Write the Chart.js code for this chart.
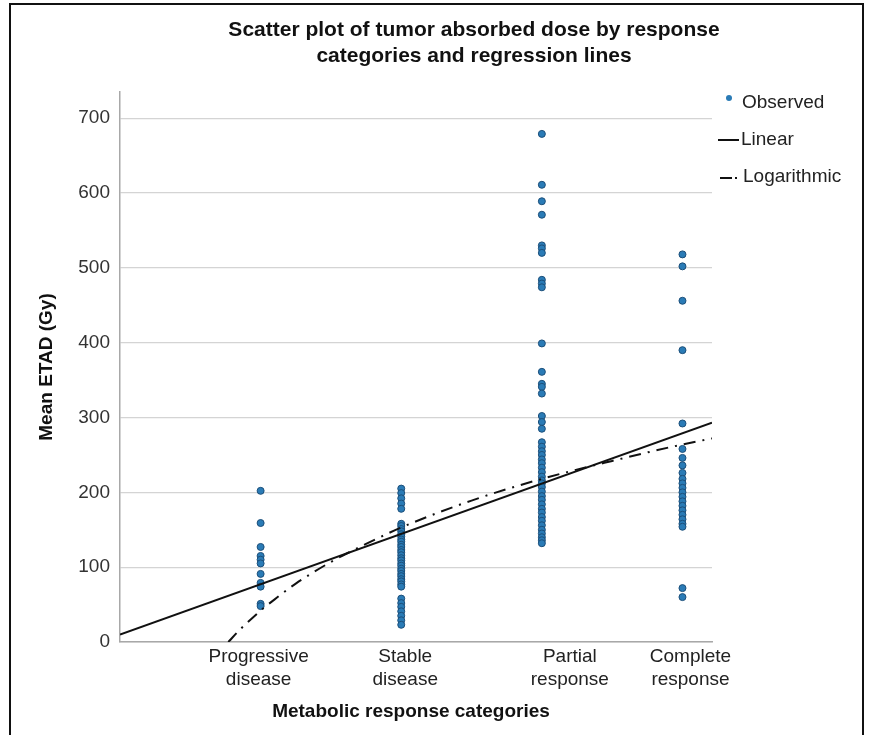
<!DOCTYPE html>
<html>
<head>
<meta charset="utf-8">
<title>Tumor absorbed dose by response category</title>
<script src="https://cdn.jsdelivr.net/npm/chart.js@4.4.1/dist/chart.umd.min.js"></script>
<style>
  html, body { margin: 0; padding: 0; background: #ffffff; }
  #wrap { width: 869px; height: 735px; position: relative; }
</style>
</head>
<body>
<div id="wrap"><canvas id="chart" width="869" height="735"></canvas></div>
<script>
// ---- data ----
const categories = [
  ["Progressive", "disease"],
  ["Stable", "disease"],
  ["Partial", "response"],
  ["Complete", "response"]
];

// Mean ETAD (Gy) per lesion, one list per response category
const progressiveDisease = [202, 159, 127, 115, 110, 105, 91, 79, 74, 51, 48];
const stableDisease = [205, 199, 192, 185, 178, 158, 155, 151, 148, 144, 141, 137, 134, 130, 127,
  123, 120, 116, 112, 109, 105, 102, 98, 95, 91, 88, 84, 81, 77, 74, 58, 52, 47, 41, 35, 29, 23];
const partialResponse = [679, 611, 589, 571, 530, 526, 520, 484, 479, 474, 399, 361, 345, 341, 332,
  302, 294, 285, 267, 261, 255, 250, 244, 239, 233, 227, 221, 216, 212, 207, 201, 195, 190, 184,
  178, 173, 167, 162, 156, 150, 145, 140, 136, 132];
const completeResponse = [518, 502, 456, 390, 292, 258, 246, 236, 226, 218, 212, 206, 200, 194, 188,
  182, 176, 170, 164, 158, 154, 72, 60];

// fitted regression curves (x = category code, y = Gy)
const linearFitX = [0, 4.21];
const linearFitY = [10, 293];
const logFitX = [0.77, 0.85, 0.9, 1, 1.1, 1.25, 1.5, 1.75, 2, 2.5, 3, 3.5, 4, 4.21];
const logFitY = [0, 16, 25, 42, 57, 78, 107, 131, 153, 189, 218, 242, 264, 272];

const yTicks = [0, 100, 200, 300, 400, 500, 600, 700];
const legendLabels = ["Observed", "Linear", "Logarithmic"];
const titleLines = ["Scatter plot of tumor absorbed dose by response", "categories and regression lines"];
const xAxisTitle = "Metabolic response categories";
const yAxisTitle = "Mean ETAD (Gy)";

// ---- styling ----
const FONT = '"Liberation Sans", Arial, Helvetica, sans-serif';
const POINT_FILL = '#2a7bb6';
const POINT_EDGE = '#1c4f7a';
const LINE_COLOR = '#111111';
const LOG_DASH = [12, 7, 2, 7];
const LABEL_SHIFT = [-2, 4, 28, 8]; // horizontal nudge of category labels

const groups = [progressiveDisease, stableDisease, partialResponse, completeResponse];
const observed = [];
groups.forEach((vals, i) => vals.forEach(v => observed.push({ x: i + 1, y: v })));

const toXY = (xs, ys) => xs.map((x, i) => ({ x: x, y: ys[i] }));

const decorations = {
  id: 'decorations',
  beforeDraw(chart) {
    const ctx = chart.ctx;
    ctx.save();
    ctx.fillStyle = '#ffffff';
    ctx.fillRect(0, 0, chart.width, chart.height);
    ctx.restore();
  },
  afterDraw(chart) {
    const ctx = chart.ctx;
    const xs = chart.scales.x;
    const area = chart.chartArea;
    ctx.save();

    // outer frame
    ctx.strokeStyle = '#111';
    ctx.lineWidth = 2;
    ctx.strokeRect(10, 4, 853, 770);

    // title
    ctx.fillStyle = '#111';
    ctx.textAlign = 'center';
    ctx.textBaseline = 'middle';
    ctx.font = `bold 21px ${FONT}`;
    ctx.fillText(titleLines[0], 474, 30);
    ctx.fillText(titleLines[1], 474, 56);

    // category labels
    ctx.font = `19px ${FONT}`;
    ctx.fillStyle = '#222';
    categories.forEach((lines, i) => {
      const px = xs.getPixelForValue(i + 1) + LABEL_SHIFT[i];
      lines.forEach((t, j) => ctx.fillText(t, px, area.bottom + 15 + j * 23));
    });

    // axis titles
    ctx.font = `bold 19px ${FONT}`;
    ctx.fillStyle = '#111';
    ctx.fillText(xAxisTitle, (area.left + area.right) / 2 - 5, 712);
    ctx.save();
    ctx.translate(47, (area.top + area.bottom) / 2);
    ctx.rotate(-Math.PI / 2);
    ctx.fillText(yAxisTitle, 0, 0);
    ctx.restore();

    // legend
    ctx.textAlign = 'left';
    ctx.font = `19px ${FONT}`;
    ctx.fillStyle = '#222';
    ctx.beginPath();
    ctx.arc(729, 98, 3, 0, Math.PI * 2);
    ctx.fillStyle = POINT_FILL;
    ctx.fill();
    ctx.fillStyle = '#222';
    ctx.fillText(legendLabels[0], 742, 103);

    ctx.strokeStyle = LINE_COLOR;
    ctx.lineWidth = 2;
    ctx.beginPath();
    ctx.moveTo(718, 140);
    ctx.lineTo(739, 140);
    ctx.stroke();
    ctx.fillText(legendLabels[1], 741, 140);

    ctx.beginPath();
    ctx.moveTo(720, 178);
    ctx.lineTo(732, 178);
    ctx.stroke();
    ctx.beginPath();
    ctx.moveTo(735, 178);
    ctx.lineTo(737, 178);
    ctx.stroke();
    ctx.fillText(legendLabels[2], 743, 177);

    ctx.restore();
  }
};

new Chart(document.getElementById('chart'), {
  type: 'scatter',
  data: {
    datasets: [
      {
        type: 'line',
        label: legendLabels[1],
        data: toXY(linearFitX, linearFitY),
        borderColor: LINE_COLOR,
        borderWidth: 2,
        pointRadius: 0,
        fill: false,
        order: 0
      },
      {
        type: 'line',
        label: legendLabels[2],
        data: toXY(logFitX, logFitY),
        borderColor: LINE_COLOR,
        borderWidth: 2,
        borderDash: LOG_DASH,
        cubicInterpolationMode: 'monotone',
        pointRadius: 0,
        fill: false,
        order: 0
      },
      {
        type: 'scatter',
        label: legendLabels[0],
        data: observed,
        backgroundColor: POINT_FILL,
        borderColor: POINT_EDGE,
        borderWidth: 1,
        pointRadius: 3.5,
        order: 1
      }
    ]
  },
  options: {
    responsive: false,
    animation: false,
    devicePixelRatio: 1,
    layout: { padding: { left: 10, top: 92, right: 157, bottom: 0 } },
    plugins: {
      legend: { display: false },
      tooltip: { enabled: false },
      title: { display: false }
    },
    scales: {
      x: {
        type: 'linear',
        min: 0,
        max: 4.21,
        ticks: { display: false },
        grid: { drawOnChartArea: false, drawTicks: false },
        border: { display: true, color: '#a8a8a8', width: 1.5 },
        afterFit(scale) { scale.height = 93; }
      },
      y: {
        type: 'linear',
        min: 0,
        max: 735,
        afterBuildTicks(scale) { scale.ticks = yTicks.map(v => ({ value: v })); },
        ticks: {
          padding: 10,
          color: '#333',
          font: { family: FONT, size: 19 }
        },
        grid: { color: '#d4d4d4', lineWidth: 1.2, drawTicks: false },
        border: { display: true, color: '#a8a8a8', width: 1.5 },
        afterFit(scale) { scale.width = 110; }
      }
    }
  },
  plugins: [decorations]
});
</script>
</body>
</html>
